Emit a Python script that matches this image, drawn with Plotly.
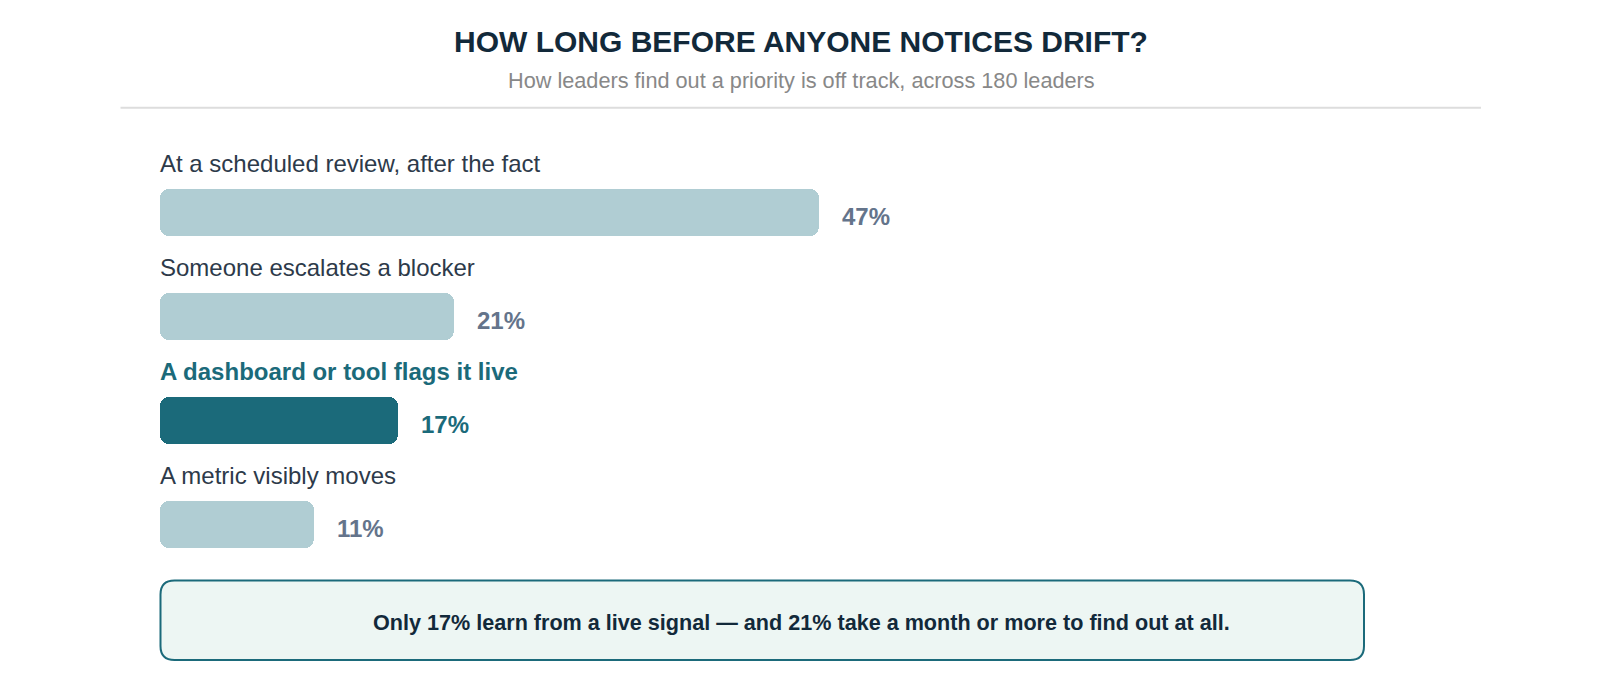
import plotly.graph_objects as go

# datos del gráfico
categorias = [
    "At a scheduled review, after the fact",
    "Someone escalates a blocker",
    "A dashboard or tool flags it live",
    "A metric visibly moves",
]
valores = [47, 21, 17, 11]
destacada = "A dashboard or tool flags it live"

titulo = "HOW LONG BEFORE ANYONE NOTICES DRIFT?"
subtitulo = "How leaders find out a priority is off track, across 180 leaders"
nota = "Only 17% learn from a live signal \u2014 and 21% take a month or more to find out at all."

W, H = 1584, 664
ML, MR, MT, MB = 151.5, 226, 151.6, 95.4
FUENTE = "Liberation Sans, Arial, sans-serif"
CENTRO = 793

TEAL = "#1b6a7a"
SUAVE = "#b0cdd3"
OSCURO = "#12293a"


def px_x(x):
    return (x - ML) / (W - ML - MR)


def px_y(y):
    return (H - MB - y) / (H - MT - MB)


colores = [TEAL if c == destacada else SUAVE for c in categorias]

# dos mitades solapadas para redondear ambos extremos de cada barra
fig = go.Figure()
fig.add_trace(go.Bar(
    x=[-v * 0.6 for v in valores], base=[v * 0.6 for v in valores], y=categorias,
    orientation="h", width=0.45,
    marker=dict(color=colores, cornerradius=9, line=dict(width=0)),
    hoverinfo="skip",
))
fig.add_trace(go.Bar(
    x=[v * 0.6 for v in valores], base=[v * 0.4 for v in valores], y=categorias,
    orientation="h", width=0.45,
    marker=dict(color=colores, cornerradius=9, line=dict(width=0)),
    hoverinfo="skip",
))

anotaciones = []
for cat, val in zip(categorias, valores):
    es_dest = cat == destacada
    anotaciones.append(dict(
        x=0, y=cat, xref="x", yref="y", xanchor="left", yanchor="middle",
        xshift=-2, yshift=49, showarrow=False,
        text=f"<b>{cat}</b>" if es_dest else cat,
        font=dict(family=FUENTE, size=24, color=TEAL if es_dest else "#2d3a4a"),
    ))
    anotaciones.append(dict(
        x=val, y=cat, xref="x", yref="y", xanchor="left", yanchor="middle",
        xshift=21, yshift=-4, showarrow=False,
        text=f"<b>{val}%</b>",
        font=dict(family=FUENTE, size=24, color=TEAL if es_dest else "#64748b"),
    ))

anotaciones += [
    dict(x=px_x(CENTRO), y=px_y(33), xref="paper", yref="paper", xanchor="center",
         yanchor="middle", showarrow=False,
         text=f"<b>{titulo}</b>", font=dict(family=FUENTE, size=30, color=OSCURO)),
    dict(x=px_x(CENTRO), y=px_y(72), xref="paper", yref="paper", xanchor="center",
         yanchor="middle", showarrow=False,
         text=subtitulo, font=dict(family=FUENTE, size=21.7, color="#888888")),
    dict(x=px_x(CENTRO), y=px_y(614.5), xref="paper", yref="paper", xanchor="center",
         yanchor="middle", showarrow=False, text=f"<b>{nota}</b>",
         font=dict(family=FUENTE, size=21.6, color=OSCURO)),
]

# caja de la nota con esquinas redondeadas
x0, x1, y0, y1, r = 152, 1356, 572, 651.5, 14
path = (
    f"M {px_x(x0 + r)} {px_y(y0)} L {px_x(x1 - r)} {px_y(y0)} "
    f"Q {px_x(x1)} {px_y(y0)} {px_x(x1)} {px_y(y0 + r)} "
    f"L {px_x(x1)} {px_y(y1 - r)} Q {px_x(x1)} {px_y(y1)} {px_x(x1 - r)} {px_y(y1)} "
    f"L {px_x(x0 + r)} {px_y(y1)} Q {px_x(x0)} {px_y(y1)} {px_x(x0)} {px_y(y1 - r)} "
    f"L {px_x(x0)} {px_y(y0 + r)} Q {px_x(x0)} {px_y(y0)} {px_x(x0 + r)} {px_y(y0)} Z"
)

formas = [
    dict(type="line", xref="paper", yref="paper",
         x0=px_x(112), x1=px_x(1473), y0=px_y(99.4), y1=px_y(99.4),
         line=dict(color="#dddddd", width=2)),
    dict(type="path", xref="paper", yref="paper", path=path,
         fillcolor="#edf6f3", line=dict(color=TEAL, width=2), layer="below"),
]

fig.update_layout(
    width=W,
    height=H,
    margin=dict(l=ML, r=MR, t=MT, b=MB),
    paper_bgcolor="white",
    plot_bgcolor="white",
    showlegend=False,
    barmode="overlay",
    bargap=0,
    xaxis=dict(range=[0, 86], visible=False, fixedrange=True),
    yaxis=dict(categoryorder="array", categoryarray=categorias,
               range=[3.5, -0.5], visible=False, fixedrange=True),
    annotations=anotaciones,
    shapes=formas,
    font=dict(family=FUENTE),
)

fig.write_html("out.html", config={"displayModeBar": False})
